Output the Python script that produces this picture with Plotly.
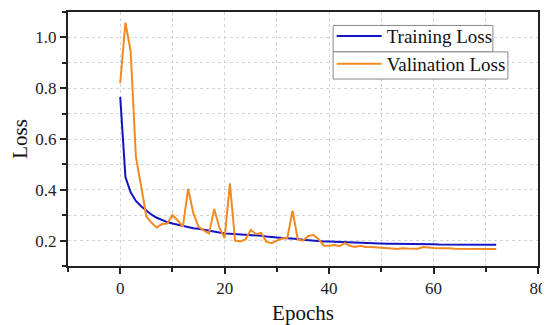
import plotly.graph_objects as go

epochs = list(range(73))
train_loss = [0.766, 0.45, 0.39, 0.356, 0.335, 0.318, 0.302, 0.29, 0.28, 0.273,
              0.267, 0.262, 0.256, 0.252, 0.249, 0.247, 0.243, 0.239, 0.235, 0.231,
              0.228, 0.227, 0.226, 0.224, 0.222, 0.221, 0.22, 0.219, 0.216, 0.213,
              0.211, 0.21, 0.209, 0.208, 0.206, 0.203, 0.201, 0.2, 0.198, 0.196,
              0.196, 0.195, 0.194, 0.193, 0.192, 0.191, 0.19, 0.19, 0.19, 0.189,
              0.189, 0.188, 0.188, 0.188, 0.187, 0.187, 0.187, 0.186, 0.186, 0.186,
              0.186, 0.185, 0.185, 0.185, 0.185, 0.185, 0.184, 0.184, 0.184, 0.184,
              0.184, 0.184, 0.184]
val_loss = [0.82, 1.058, 0.945, 0.53, 0.415, 0.295, 0.27, 0.252, 0.265, 0.267,
            0.30, 0.28, 0.254, 0.404, 0.308, 0.254, 0.24, 0.228, 0.324, 0.25,
            0.21, 0.425, 0.2, 0.197, 0.205, 0.242, 0.226, 0.23, 0.195, 0.19,
            0.2, 0.208, 0.21, 0.318, 0.205, 0.2, 0.218, 0.222, 0.205, 0.18,
            0.18, 0.183, 0.178, 0.19, 0.18, 0.175, 0.18, 0.175, 0.175, 0.174,
            0.172, 0.171, 0.169, 0.167, 0.17, 0.169, 0.169, 0.168, 0.175, 0.172,
            0.171, 0.17, 0.171, 0.17, 0.168, 0.168, 0.167, 0.167, 0.167, 0.167,
            0.167, 0.167, 0.167]

FONT = "Liberation Serif"

fig = go.Figure()
fig.add_trace(go.Scatter(x=epochs, y=train_loss, mode="lines", name="Training Loss",
                         line=dict(color="#1414C4", width=2)))
fig.add_trace(go.Scatter(x=epochs, y=val_loss, mode="lines", name="Valination Loss",
                         line=dict(color="#F28A24", width=2)))

axis_common = dict(
    showline=True, linecolor="#222", linewidth=2, mirror=True,
    ticks="outside", ticklen=6, tickwidth=2, tickcolor="#222",
    showgrid=True, gridcolor="#d4d4d4", griddash="dot", gridwidth=1,
    zeroline=False, automargin=False,
    tickfont=dict(family=FONT, size=17, color="#222"),
)

fig.update_xaxes(**axis_common, range=[-10, 80], tick0=0, dtick=20,
                 minor=dict(dtick=10, tick0=0, ticks="outside", ticklen=4, tickwidth=2,
                            tickcolor="#222", showgrid=True, gridcolor="#d4d4d4", griddash="dot"),
                 title=dict(text="Epochs", font=dict(family=FONT, size=21, color="#111"), standoff=14))
fig.update_yaxes(**axis_common, range=[0.1, 1.1], tick0=0.2, dtick=0.2, tickformat=".1f",
                 minor=dict(dtick=0.1, tick0=0.1, ticks="outside", ticklen=4, tickwidth=2,
                            tickcolor="#222", showgrid=True, gridcolor="#d4d4d4", griddash="dot"),
                 title=dict(text="Loss", font=dict(family=FONT, size=21, color="#111"), standoff=8))

# legend frames (two stacked boxes as in the original)
box_style = dict(type="rect", xref="paper", yref="paper", layer="above",
                 line=dict(color="#888", width=1), fillcolor="white")
fig.add_shape(x0=0.564, x1=0.904, y0=0.843, y1=0.947, **box_style)
fig.add_shape(x0=0.564, x1=0.936, y0=0.736, y1=0.843, **box_style)

# page body has an 8px default margin: size the figure to fill the rest of the window
fig.update_layout(
    width=542, height=317,
    margin=dict(l=60, r=12, t=4, b=59),
    plot_bgcolor="white", paper_bgcolor="white",
    font=dict(family=FONT, color="#111"),
    legend=dict(x=0.561, y=0.98, xanchor="left", yanchor="top",
                bgcolor="rgba(0,0,0,0)", borderwidth=0,
                font=dict(family=FONT, size=19, color="#111"),
                itemwidth=45, tracegroupgap=0),
    showlegend=True,
)

fig.write_html("out.html")
